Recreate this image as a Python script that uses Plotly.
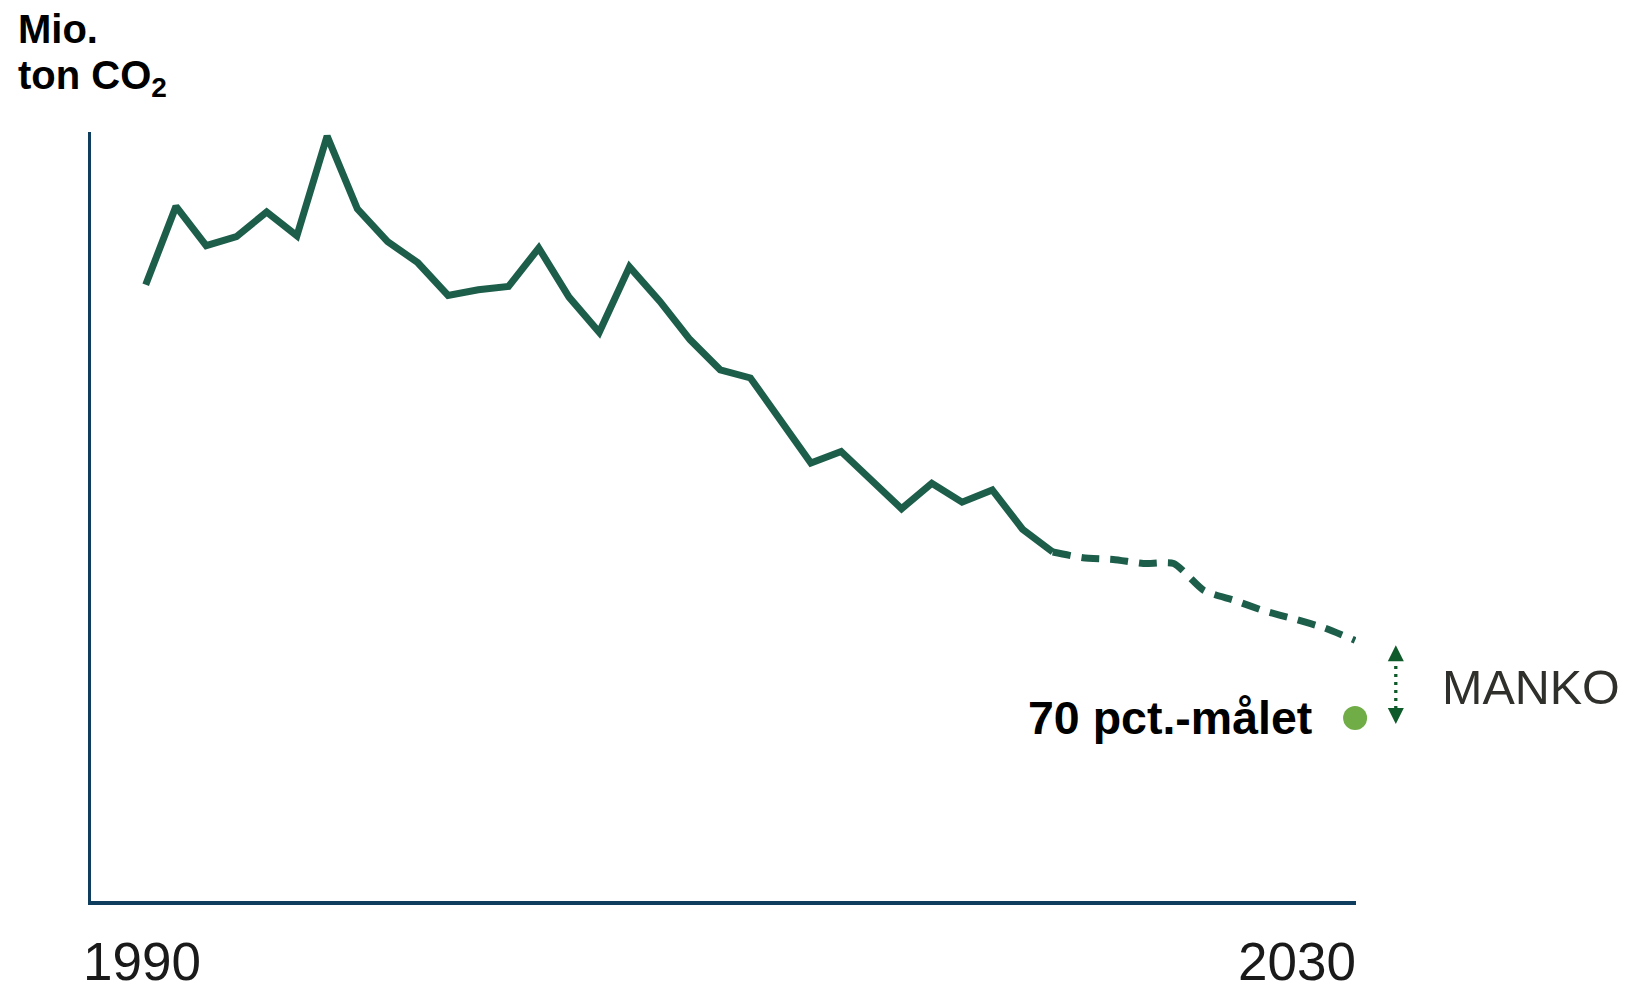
import plotly.graph_objects as go

# ---------------- data ----------------
hist_years = list(range(1990, 2021))
hist_vals = [75.4, 85.0, 80.2, 81.3, 84.3, 81.4, 93.6, 84.7, 80.7, 78.1,
             74.1, 74.8, 75.2, 79.9, 73.9, 69.6, 77.6, 73.4, 68.7, 65.0,
             64.0, 58.8, 53.6, 55.0, 51.6, 48.0, 51.1, 48.8, 50.3, 45.5,
             42.7]
proj_years = list(range(2020, 2031))
proj_vals = [42.7, 42.0, 41.8, 41.3, 41.3, 38.0, 36.8, 35.5, 34.5, 33.4, 31.9]
target_year = 2030
target_val = 22.4
x_labels = ["1990", "2030"]
y_title = ["Mio.", "ton CO<sub>2</sub>"]
target_label = "70 pct.-målet"
gap_label = "MANKO"

# ---------------- styling ----------------
W, H = 1629, 986
L, R, T, B = 91, 1356, 132, 901  # plot area in pixels
X_RANGE = [1988.19, 2030.03]
Y_RANGE = [0, 94.1]
LINE = "#1d5e4b"
AXIS = "#0f3d5e"
DOT = "#70ad47"
ARROW = "#0f5a2a"
FONT = "Liberation Sans, Arial, sans-serif"
ARROW_DX = 40.7   # pixel offset of the gap arrow from the 2030 point
HW, HL = 8, 16    # arrow head half-width and length (px)


def px_x(p):
    return (p - L) / (R - L)


def px_y(p):
    return (B - p) / (B - T)


def data_to_paper_x(v):
    return (v - X_RANGE[0]) / (X_RANGE[1] - X_RANGE[0])


fig = go.Figure()
fig.add_trace(go.Scatter(x=hist_years, y=hist_vals, mode="lines",
                         line=dict(color=LINE, width=7), hoverinfo="skip"))
fig.add_trace(go.Scatter(x=proj_years, y=proj_vals, mode="lines",
                         line=dict(color=LINE, width=7, dash="18px,11px",
                                   shape="spline", smoothing=0.6),
                         hoverinfo="skip"))
fig.add_trace(go.Scatter(x=[target_year], y=[target_val], mode="markers",
                         marker=dict(color=DOT, size=24), cliponaxis=False,
                         hoverinfo="skip"))

end_val = proj_vals[-1]
annotations = []
# y-axis title
annotations.append(dict(xref="paper", yref="paper", x=px_x(16.3), y=px_y(28.9),
                        xanchor="left", yanchor="middle", showarrow=False,
                        text=y_title[0],
                        font=dict(family=FONT, size=40, color="#000000", weight="bold")))
annotations.append(dict(xref="paper", yref="paper", x=px_x(16.3), y=px_y(78.5),
                        xanchor="left", yanchor="middle", showarrow=False,
                        text=y_title[1],
                        font=dict(family=FONT, size=40, color="#000000", weight="bold")))
# x labels
annotations.append(dict(xref="paper", yref="paper", x=px_x(81), y=px_y(961.5),
                        xanchor="left", yanchor="middle", showarrow=False,
                        text=x_labels[0],
                        font=dict(family=FONT, size=53, color="#1a1a1a")))
annotations.append(dict(xref="paper", yref="paper", x=px_x(1358), y=px_y(961.5),
                        xanchor="right", yanchor="middle", showarrow=False,
                        text=x_labels[1],
                        font=dict(family=FONT, size=53, color="#1a1a1a")))
# target label
annotations.append(dict(x=target_year, y=target_val, xref="x", yref="y",
                        xanchor="right", yanchor="middle", xshift=-41,
                        showarrow=False, text=target_label,
                        font=dict(family=FONT, size=46.5, color="#000000", weight="bold")))
# MANKO label
annotations.append(dict(x=target_year, y=(end_val + target_val) / 2, xref="x", yref="y",
                        xanchor="left", yanchor="middle", xshift=84.5, yshift=-8,
                        showarrow=False, text=gap_label,
                        font=dict(family=FONT, size=48.5, color="#2f2f2c")))

x_anchor = data_to_paper_x(target_year)
shapes = [
    # dotted shaft
    dict(type="line", xref="paper", yref="y", xsizemode="pixel",
         xanchor=x_anchor, x0=ARROW_DX, x1=ARROW_DX,
         ysizemode="pixel", yanchor=target_val, y0=9, y1=60,
         line=dict(color=ARROW, width=3.3, dash="3px,5px")),
    # upper arrow head (points to the projected 2030 value)
    dict(type="path", xref="paper", yref="y", xsizemode="pixel", ysizemode="pixel",
         xanchor=x_anchor, yanchor=end_val,
         path=f"M {ARROW_DX},-5 L {ARROW_DX + HW},{-5 - HL} L {ARROW_DX - HW},{-5 - HL} Z",
         fillcolor=ARROW, line=dict(width=0)),
    # lower arrow head (points to the target)
    dict(type="path", xref="paper", yref="y", xsizemode="pixel", ysizemode="pixel",
         xanchor=x_anchor, yanchor=target_val,
         path=f"M {ARROW_DX},-6 L {ARROW_DX + HW},{-6 + HL} L {ARROW_DX - HW},{-6 + HL} Z",
         fillcolor=ARROW, line=dict(width=0)),
]

fig.update_layout(
    width=W, height=H,
    margin=dict(l=L, r=W - R, t=T, b=H - B, pad=0),
    paper_bgcolor="white", plot_bgcolor="white",
    showlegend=False,
    annotations=annotations,
    shapes=shapes,
    xaxis=dict(range=X_RANGE, showgrid=False, zeroline=False,
               showticklabels=False, ticks="", showline=True,
               linecolor=AXIS, linewidth=4, fixedrange=True),
    yaxis=dict(range=Y_RANGE, showgrid=False, zeroline=False,
               showticklabels=False, ticks="", showline=True,
               linecolor=AXIS, linewidth=3, fixedrange=True),
)

fig.write_html("out.html", config={"displayModeBar": False},
               post_script="document.body.style.margin='0';document.body.style.overflow='hidden';")
